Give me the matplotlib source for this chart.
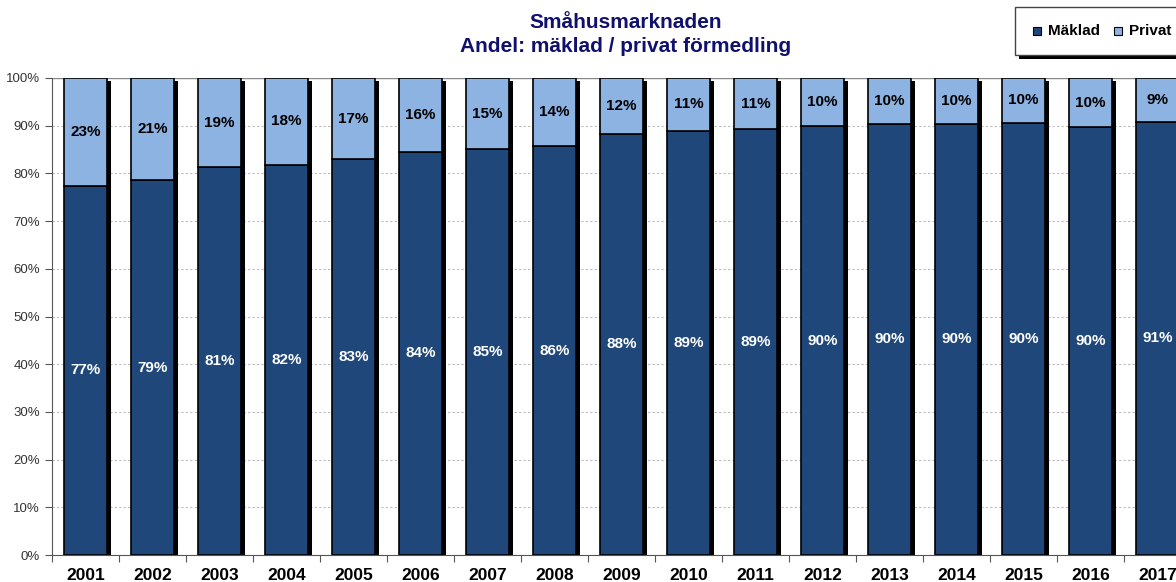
import matplotlib
matplotlib.use("Agg")
import matplotlib.pyplot as plt
from matplotlib.transforms import ScaledTranslation
from matplotlib.patches import Rectangle
import numpy as np

plt.rcParams["font.family"] = ["Liberation Sans", "DejaVu Sans"]

years = ["2001", "2002", "2003", "2004", "2005", "2006", "2007", "2008", "2009",
         "2010", "2011", "2012", "2013", "2014", "2015", "2016", "2017"]
maklad = [77.4, 78.6, 81.3, 81.8, 83.0, 84.5, 85.1, 85.7, 88.3,
          88.9, 89.3, 89.9, 90.4, 90.4, 90.6, 89.7, 90.8]
privat = [100 - m for m in maklad]
maklad_labels = ["77%", "79%", "81%", "82%", "83%", "84%", "85%", "86%", "88%",
                 "89%", "89%", "90%", "90%", "90%", "90%", "90%", "91%"]
privat_labels = ["23%", "21%", "19%", "18%", "17%", "16%", "15%", "14%", "12%",
                 "11%", "11%", "10%", "10%", "10%", "10%", "10%", "9%"]

DARK = "#1F477A"
LIGHT = "#8DB3E2"
NAVY = "#10106E"

fig = plt.figure(figsize=(11.76, 5.82), dpi=100)
W, H = 1176, 582
px_per_cat = 67
left_px, bottom_px, top_px = 52, 555, 78
ax = fig.add_axes([left_px / W, (H - bottom_px) / H,
                   len(years) * px_per_cat / W, (bottom_px - top_px) / H])

x = np.arange(1, len(years) + 1)
width = 0.63

# shadows
shadow_tf = ax.transData + ScaledTranslation(4 / 100, -3 / 100, fig.dpi_scale_trans)
sh = ax.bar(x, [100] * len(x), width=width, color="black", zorder=2)
for p in sh:
    p.set_transform(shadow_tf)

ax.bar(x, maklad, width=width, color=DARK, edgecolor="black", linewidth=1.2, zorder=3)
ax.bar(x, privat, width=width, bottom=maklad, color=LIGHT, edgecolor="black",
       linewidth=1.2, zorder=3)

for xi, m, p, ml, pl in zip(x, maklad, privat, maklad_labels, privat_labels):
    ax.text(xi, m / 2, ml, ha="center", va="center", color="white",
            fontsize=11, fontweight="bold", zorder=5)
    ax.text(xi, m + p / 2, pl, ha="center", va="center", color="black",
            fontsize=11, fontweight="bold", zorder=5)

ax.set_xlim(0.5, len(years) + 0.5)
ax.set_ylim(0, 100)
ax.set_yticks(np.arange(0, 101, 10))
ax.set_yticklabels([f"{v}%" for v in range(0, 101, 10)], fontsize=9.5, color="#333333")
ax.yaxis.grid(True, linestyle=(0, (2, 2)), color="#BBBBBB", linewidth=0.8, zorder=0)
ax.set_axisbelow(True)
ax.axhline(100, color="#888888", linewidth=1.0, zorder=1)

ax.set_xticks(np.arange(0.5, len(years) + 1, 1))
ax.set_xticklabels([])
ax.set_xticks(x, minor=True)
ax.set_xticklabels(years, minor=True, fontsize=12.5, fontweight="bold")
ax.tick_params(axis="x", which="minor", length=0, pad=9)
ax.tick_params(axis="x", which="major", length=5, color="#555555", direction="out")
ax.tick_params(axis="y", length=5, color="#555555", direction="out")

for s in ["top", "right"]:
    ax.spines[s].set_visible(False)
ax.spines["left"].set_color("#555555")
ax.spines["bottom"].set_color("#555555")

fig.text(626 / W, 1 - 22 / H, "Småhusmarknaden", ha="center", va="center",
         fontsize=15, fontweight="bold", color=NAVY)
fig.text(626 / W, 1 - 46 / H, "Andel: mäklad / privat förmedling", ha="center",
         va="center", fontsize=15, fontweight="bold", color=NAVY)

# legend box with shadow
lx0, ly0, lx1, ly1 = 1015, 7, 1200, 55
fig.patches.append(Rectangle(((lx0 + 4) / W, 1 - (ly1 + 4) / H), (lx1 - lx0) / W,
                             (ly1 - ly0) / H, transform=fig.transFigure,
                             facecolor="black", edgecolor="none", zorder=1))
fig.patches.append(Rectangle((lx0 / W, 1 - ly1 / H), (lx1 - lx0) / W,
                             (ly1 - ly0) / H, transform=fig.transFigure,
                             facecolor="white", edgecolor="#444444", linewidth=1, zorder=2))
for sx, col, lab in [(1033, DARK, "Mäklad"), (1114, LIGHT, "Privat")]:
    fig.patches.append(Rectangle((sx / W, 1 - 35 / H), 8 / W, 8 / H,
                                 transform=fig.transFigure, facecolor=col,
                                 edgecolor="black", linewidth=0.8, zorder=3))
    fig.text((sx + 15) / W, 1 - 31 / H, lab, ha="left", va="center",
             fontsize=11, fontweight="bold", zorder=4)

fig.savefig("out.png", dpi=100)
